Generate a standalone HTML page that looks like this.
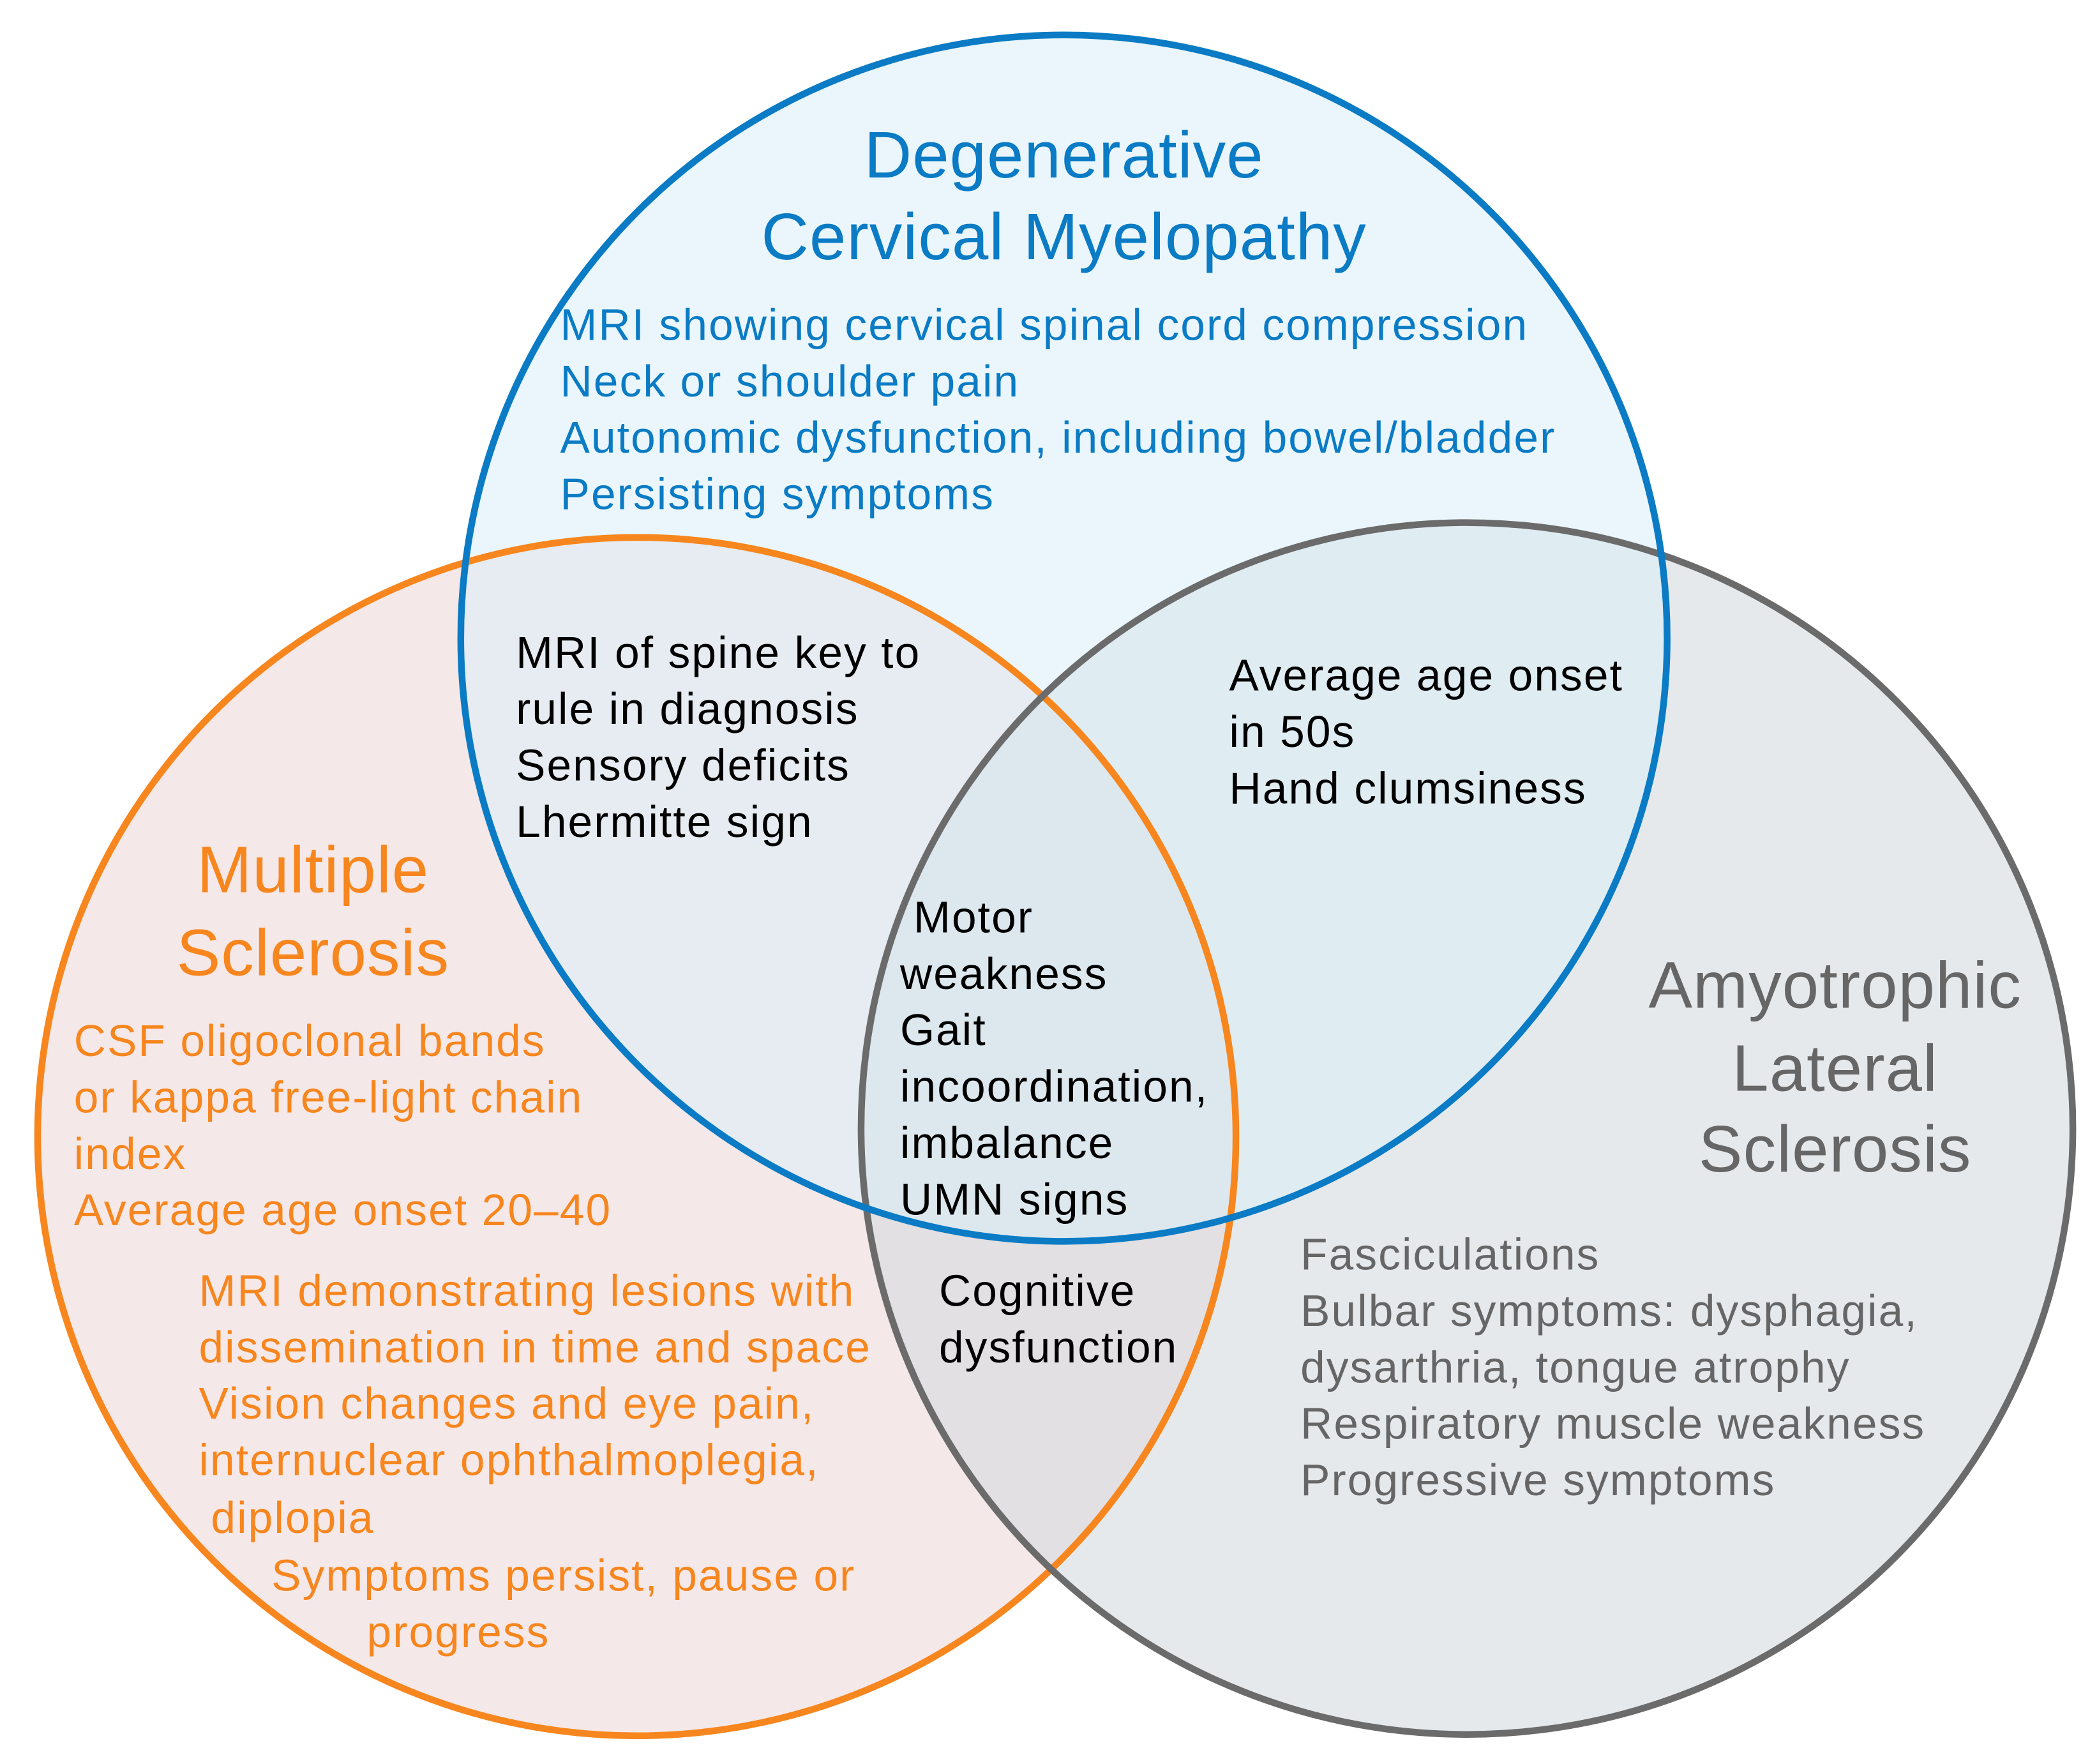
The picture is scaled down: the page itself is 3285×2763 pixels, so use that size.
<!DOCTYPE html>
<html><head><meta charset="utf-8"><style>
html,body{margin:0;padding:0;background:#fff;}
svg{display:block;}
text{font-family:"Liberation Sans",sans-serif;}
</style></head><body>
<svg width="3285" height="2763" viewBox="0 0 1561 1313" preserveAspectRatio="none" xmlns="http://www.w3.org/2000/svg">
<rect width="1561" height="1313" fill="#fff"/>
<circle cx="474" cy="846" r="446" fill="#f0dcdc" fill-opacity="0.65"/>
<circle cx="1092" cy="840" r="451" fill="#d6dadf" fill-opacity="0.6"/>
<circle cx="792" cy="475" r="449" fill="#d9eef8" fill-opacity="0.55"/>
<circle cx="474" cy="846" r="446" fill="none" stroke="#f7861e" stroke-width="5"/>
<circle cx="1092" cy="840" r="451" fill="none" stroke="#6b6b6b" stroke-width="5"/>
<circle cx="792" cy="475" r="449" fill="none" stroke="#0a7bc4" stroke-width="5"/>

<g fill="#0a7bc4" font-size="49" letter-spacing="0.5" text-anchor="middle">
<text x="792" y="132">Degenerative</text>
<text x="792" y="193">Cervical Myelopathy</text>
</g>
<g fill="#0a7bc4" font-size="33" letter-spacing="1">
<text x="417" y="253">MRI showing cervical spinal cord compression</text>
<text x="417" y="295">Neck or shoulder pain</text>
<text x="417" y="337">Autonomic dysfunction, including bowel/bladder</text>
<text x="417" y="379">Persisting symptoms</text>
</g>
<g fill="#000" font-size="33" letter-spacing="1">
<text x="384" y="497">MRI of spine key to</text>
<text x="384" y="539">rule in diagnosis</text>
<text x="384" y="581">Sensory deficits</text>
<text x="384" y="623">Lhermitte sign</text>
<text x="915" y="514">Average age onset</text>
<text x="915" y="556">in 50s</text>
<text x="915" y="598">Hand clumsiness</text>
<text x="680" y="694">Motor</text>
<text x="670" y="736">weakness</text>
<text x="670" y="778">Gait</text>
<text x="670" y="820">incoordination,</text>
<text x="670" y="862">imbalance</text>
<text x="670" y="904">UMN signs</text>
<text x="699" y="972">Cognitive</text>
<text x="699" y="1014">dysfunction</text>
</g>
<g fill="#f7861e" font-size="49" letter-spacing="0.5" text-anchor="middle">
<text x="233" y="664">Multiple</text>
<text x="233" y="726">Sclerosis</text>
</g>
<g fill="#f7861e" font-size="33" letter-spacing="1">
<text x="55" y="786">CSF oligoclonal bands</text>
<text x="55" y="828">or kappa free-light chain</text>
<text x="55" y="870">index</text>
<text x="55" y="912">Average age onset 20–40</text>
<text x="148" y="972">MRI demonstrating lesions with</text>
<text x="148" y="1014">dissemination in time and space</text>
<text x="148" y="1056">Vision changes and eye pain,</text>
<text x="148" y="1098">internuclear ophthalmoplegia,</text>
<text x="157" y="1141">diplopia</text>
<text x="202" y="1184">Symptoms persist, pause or</text>
<text x="273" y="1226">progress</text>
</g>
<g fill="#666" font-size="49" letter-spacing="0.5" text-anchor="middle">
<text x="1366" y="750">Amyotrophic</text>
<text x="1366" y="812">Lateral</text>
<text x="1366" y="872">Sclerosis</text>
</g>
<g fill="#666" font-size="33" letter-spacing="1">
<text x="968" y="945">Fasciculations</text>
<text x="968" y="987">Bulbar symptoms: dysphagia,</text>
<text x="968" y="1029">dysarthria, tongue atrophy</text>
<text x="968" y="1071">Respiratory muscle weakness</text>
<text x="968" y="1113">Progressive symptoms</text>
</g>
</svg>
</body></html>
